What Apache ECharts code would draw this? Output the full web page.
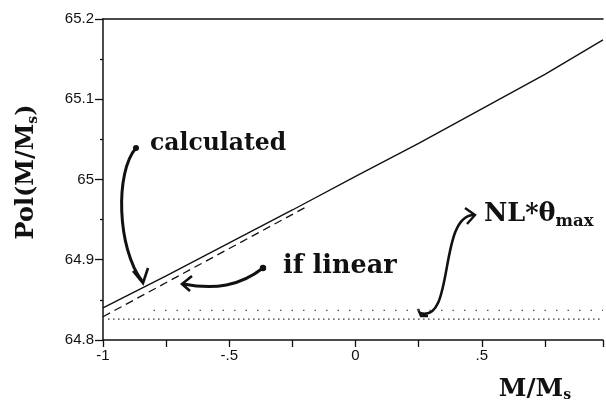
<!DOCTYPE html>
<html>
<head>
<meta charset="utf-8">
<script src="https://cdn.jsdelivr.net/npm/echarts@6/dist/echarts.min.js"></script>
<style>
  html, body { margin: 0; padding: 0; background: #fff; }
  #chart { width: 606px; height: 409px; }
</style>
</head>
<body>
<div id="chart"></div>
<script>
// Polarization vs reduced magnetization M/Ms
const xTicks = [-1, -0.5, 0, 0.5];
const xTickLabels = ['-1', '-.5', '0', '.5'];
const yTicks = [64.8, 64.9, 65, 65.1, 65.2];
const yTickLabels = ['64.8', '64.9', '65', '65.1', '65.2'];

// "calculated" curve
const calcX = [-1, -0.75, -0.5, -0.25, 0, 0.25, 0.5, 0.75, 0.98];
const calcY = [64.840, 64.880, 64.921, 64.962, 65.004, 65.045, 65.088, 65.131, 65.174];

// "if linear" reference line
const linX = [-1, -0.5, -0.2];
const linY = [64.829, 64.914, 64.965];

// NL*theta_max level, two dotted rows
const nlLowX = [-0.98, 0.98];
const nlLowY = [64.826, 64.826];
const nlHighX = [-0.8, 0.98];
const nlHighY = [64.837, 64.837];

const pairs = (xs, ys) => xs.map((x, i) => [x, ys[i]]);

const chart = echarts.init(document.getElementById('chart'));

const serif = '"DejaVu Serif", "Liberation Serif", serif';
const sans = '"Liberation Sans", Arial, sans-serif';

chart.setOption({
  backgroundColor: '#ffffff',
  animation: false,
  grid: { left: 103, right: 0, top: 19, bottom: 69 },
  xAxis: [{
    type: 'value',
    min: -1,
    max: 0.98,
    interval: 0.5,
    axisLine: { onZero: false, lineStyle: { color: '#111', width: 1.5 } },
    axisTick: { inside: false, length: 7, lineStyle: { color: '#111', width: 1.3 } },
    minorTick: { show: true, splitNumber: 2, length: 7, lineStyle: { color: '#111', width: 1.3 } },
    splitLine: { show: false },
    axisLabel: {
      color: '#111', fontFamily: sans, fontSize: 15, margin: 8,
      formatter: v => { const i = xTicks.findIndex(t => Math.abs(t - v) < 1e-9); return i >= 0 ? xTickLabels[i] : ''; }
    }
  }, {
    type: 'value', position: 'top', min: -1, max: 0.98,
    axisLine: { onZero: false, lineStyle: { color: '#111', width: 1.5 } },
    axisTick: { show: false }, axisLabel: { show: false }, splitLine: { show: false }
  }],
  yAxis: {
    type: 'value',
    min: 64.8,
    max: 65.2,
    interval: 0.1,
    axisLine: { show: true, onZero: false, lineStyle: { color: '#111', width: 1.5 } },
    axisTick: { inside: false, length: 8, lineStyle: { color: '#111', width: 1.3 } },
    minorTick: { show: true, splitNumber: 2, length: 3, lineStyle: { color: '#111', width: 1.3 } },
    splitLine: { show: false },
    axisLabel: {
      color: '#111', fontFamily: sans, fontSize: 15, margin: 9,
      formatter: v => { const i = yTicks.findIndex(t => Math.abs(t - v) < 1e-9); return i >= 0 ? yTickLabels[i] : ''; }
    }
  },
  series: [
    {
      name: 'calculated', type: 'line', data: pairs(calcX, calcY), symbol: 'none',
      lineStyle: { color: '#111', width: 1.4 }
    },
    {
      name: 'if linear', type: 'line', data: pairs(linX, linY), symbol: 'none',
      lineStyle: { color: '#111', width: 1.3, type: [8, 5] }
    },
    {
      name: 'NL*θmax', type: 'line', data: pairs(nlLowX, nlLowY), symbol: 'none',
      lineStyle: { color: '#333', width: 1.2, type: [1.5, 3.5] }
    },
    {
      name: 'NL*θmax upper', type: 'line', data: pairs(nlHighX, nlHighY), symbol: 'none',
      lineStyle: { color: '#555', width: 1.2, type: [1.5, 10] }
    }
  ],
  graphic: [
    // axis titles
    {
      type: 'text', x: 27, y: 172, rotation: Math.PI / 2,
      style: {
        text: 'Pol(M/M{s|s})', fontFamily: serif, fontWeight: 'bold', fontSize: 24,
        fill: '#111', align: 'center', verticalAlign: 'middle',
        rich: { s: { fontSize: 14, fontFamily: serif, fontWeight: 'bold', fill: '#111', padding: [12, 0, 0, 0] } }
      }
    },
    {
      type: 'text', x: 535, y: 389,
      style: {
        text: 'M/M{s|s}', fontFamily: serif, fontWeight: 'bold', fontSize: 25,
        fill: '#111', align: 'center', verticalAlign: 'middle',
        rich: { s: { fontSize: 14, fontFamily: serif, fontWeight: 'bold', fill: '#111', padding: [12, 0, 0, 0] } }
      }
    },
    // annotation labels
    {
      type: 'text', x: 150, y: 144,
      style: { text: 'calculated', fontFamily: serif, fontWeight: 'bold', fontSize: 23.5, fill: '#111', verticalAlign: 'middle' }
    },
    {
      type: 'text', x: 283, y: 266,
      style: { text: 'if linear', fontFamily: serif, fontWeight: 'bold', fontSize: 25.5, fill: '#111', verticalAlign: 'middle' }
    },
    {
      type: 'text', x: 484, y: 214,
      style: {
        text: 'NL*θ{m|max}', fontFamily: serif, fontWeight: 'bold', fontSize: 25.5, fill: '#111', verticalAlign: 'middle',
        rich: { m: { fontSize: 16.5, fontFamily: serif, fontWeight: 'bold', fill: '#111', padding: [16, 0, 0, 0] } }
      }
    },
    // arrow: calculated
    { type: 'circle', shape: { cx: 136, cy: 148, r: 3 }, style: { fill: '#111' } },
    {
      type: 'bezierCurve',
      shape: { x1: 136, y1: 148, cpx1: 115, cpy1: 172, cpx2: 117, cpy2: 248, x2: 142, y2: 281 },
      style: { stroke: '#111', lineWidth: 3, fill: null }
    },
    { type: 'polyline', shape: { points: [[133, 271], [143, 283], [148, 268]] }, style: { stroke: '#111', lineWidth: 2.6, fill: null } },
    // arrow: if linear
    { type: 'circle', shape: { cx: 263, cy: 268, r: 3.2 }, style: { fill: '#111' } },
    {
      type: 'bezierCurve',
      shape: { x1: 263, y1: 268, cpx1: 240, cpy1: 286, cpx2: 215, cpy2: 290, x2: 183, y2: 284 },
      style: { stroke: '#111', lineWidth: 3, fill: null }
    },
    { type: 'polyline', shape: { points: [[192, 276], [182, 284], [190, 291]] }, style: { stroke: '#111', lineWidth: 2.6, fill: null } },
    // arrow: NL*theta_max
    {
      type: 'bezierCurve',
      shape: { x1: 420, y1: 313, cpx1: 455, cpy1: 325, cpx2: 438, cpy2: 215, x2: 474, y2: 215 },
      style: { stroke: '#111', lineWidth: 2.6, fill: null }
    },
    { type: 'polyline', shape: { points: [[465, 208], [475, 215], [467, 224]] }, style: { stroke: '#111', lineWidth: 2.4, fill: null } },
    { type: 'polyline', shape: { points: [[418, 309], [421, 316], [428, 316]] }, style: { stroke: '#111', lineWidth: 2.4, fill: null } }
  ]
});
</script>
</body>
</html>
